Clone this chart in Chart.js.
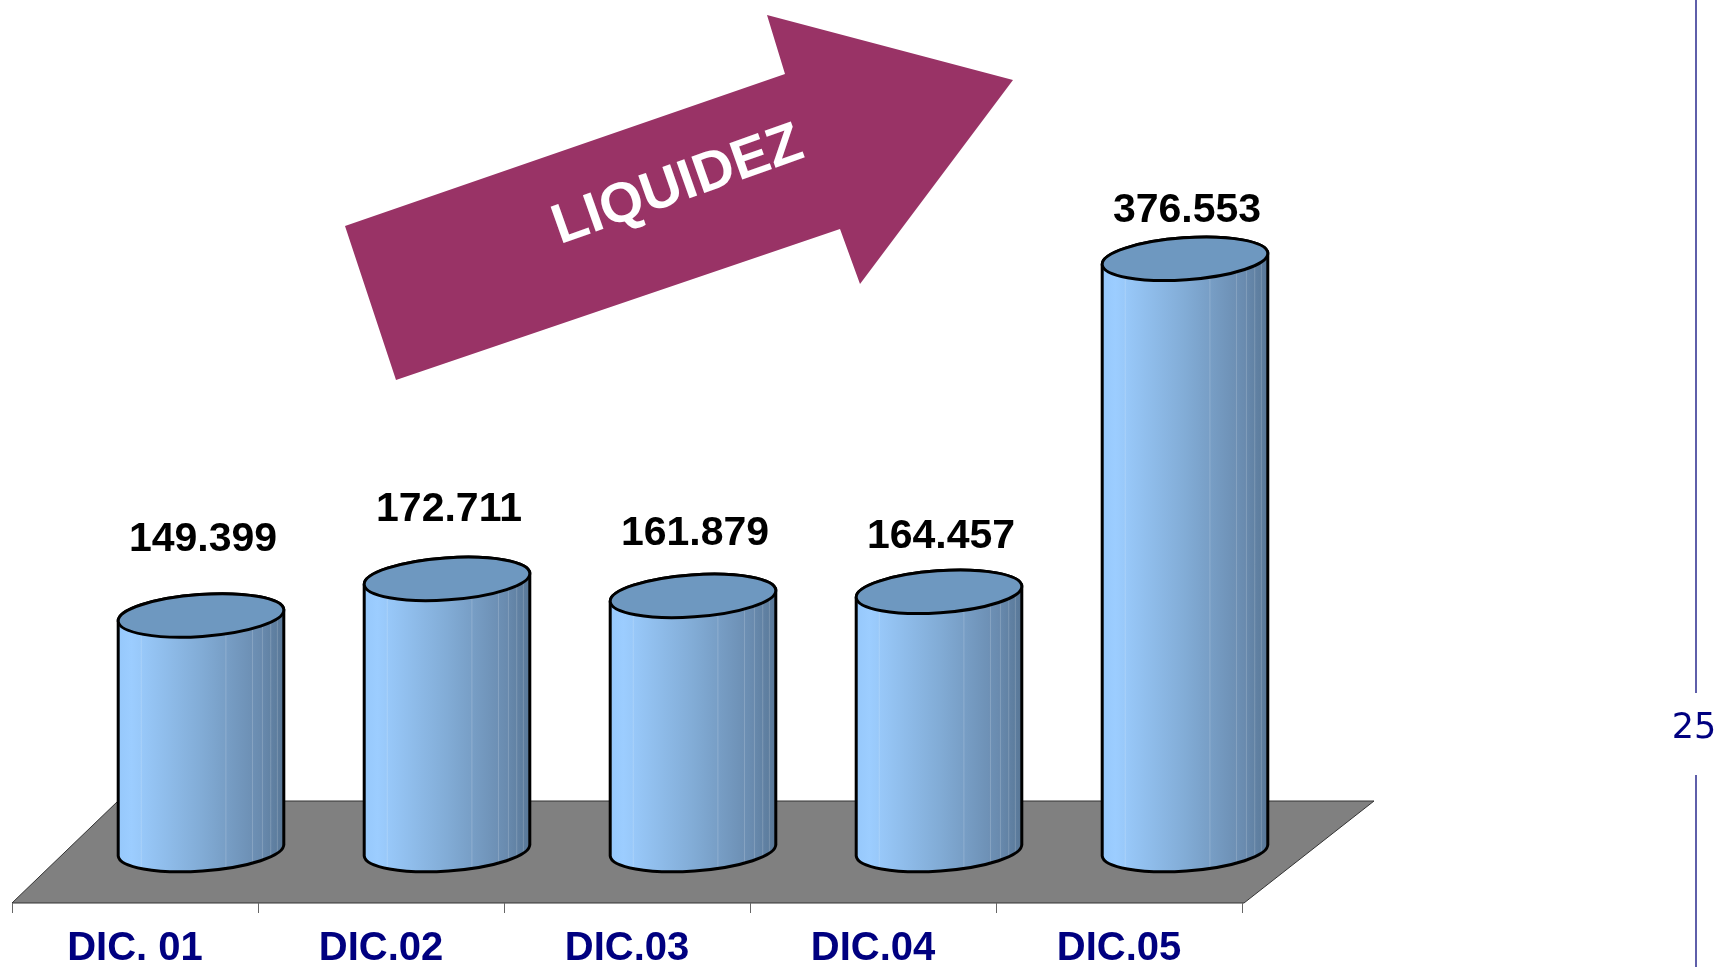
<!DOCTYPE html>
<html>
<head>
<meta charset="utf-8">
<style>
html, body { margin: 0; padding: 0; background: #fff; overflow: hidden; }
#chart { display: block; }
</style>
</head>
<body>
<canvas id="chart" width="1715" height="967"></canvas>
<script src="https://cdn.jsdelivr.net/npm/chart.js@4/dist/chart.umd.min.js"></script>
<script>
// Data (values in thousands, shown with Spanish thousand separator)
const categories = ['DIC. 01', 'DIC.02', 'DIC.03', 'DIC.04', 'DIC.05'];
const liquidez = [149.399, 172.711, 161.879, 164.457, 376.553];
const yMin = 0;
const yMax = 500;
const arrowText = 'LIQUIDEZ';
const pageNumber = '25';

// Draws the 3D floor, the cylinders, labels and the arrow around the chart
const cylinderPlugin = {
    id: 'cylinders',
    beforeDatasetsDraw(chart) {
        const ctx = chart.ctx;
        const xs = chart.getDatasetMeta(0).data.map(b => b.x);
        const base = chart.scales.y.getPixelForValue(0);
        const step = xs[1] - xs[0];

        // floor parallelogram
        const frontY = base + 53, backY = base - 49;
        const fl = xs[0] - 189, fr = xs[xs.length - 1] + 59;
        const bl = xs[0] - 83, br = xs[xs.length - 1] + 189;
        ctx.save();
        ctx.beginPath();
        ctx.moveTo(fl, frontY);
        ctx.lineTo(bl, backY);
        ctx.lineTo(br, backY);
        ctx.lineTo(fr, frontY);
        ctx.closePath();
        ctx.fillStyle = '#808080';
        ctx.fill();
        ctx.strokeStyle = '#333';
        ctx.lineWidth = 1;
        ctx.stroke();

        // ticks and category labels on the front edge
        ctx.strokeStyle = '#666';
        ctx.beginPath();
        for (let i = 0; i <= categories.length; i++) {
            const tx = fl + i * step;
            ctx.moveTo(tx + 0.5, frontY);
            ctx.lineTo(tx + 0.5, frontY + 10);
        }
        ctx.stroke();
        ctx.fillStyle = '#000080';
        ctx.font = 'bold 40px "Liberation Sans", Arial, sans-serif';
        ctx.textAlign = 'center';
        ctx.textBaseline = 'middle';
        categories.forEach((c, i) => {
            ctx.fillText(c, fl + (i + 0.5) * step, frontY + 46);
        });
        ctx.restore();
    },
    afterDatasetsDraw(chart) {
        const ctx = chart.ctx;
        const meta = chart.getDatasetMeta(0);
        const base = chart.scales.y.getPixelForValue(0);
        const rx = 83, ry = 21, tilt = -0.07;

        ctx.save();
        ctx.lineWidth = 3;
        ctx.lineJoin = 'round';
        ctx.strokeStyle = '#000';
        meta.data.forEach((bar, i) => {
            const cx = bar.x, top = bar.y;

            const grad = ctx.createLinearGradient(cx - rx, 0, cx + rx, 0);
            grad.addColorStop(0, '#96c8fb');
            grad.addColorStop(0.08, '#9ccdff');
            grad.addColorStop(0.5, '#82acd6');
            grad.addColorStop(0.85, '#6a8cb0');
            grad.addColorStop(1, '#587797');

            // body
            ctx.beginPath();
            ctx.ellipse(cx, base, rx, ry, tilt, 0, Math.PI);
            ctx.ellipse(cx, top, rx, ry, tilt, Math.PI, 2 * Math.PI);
            ctx.closePath();
            ctx.fillStyle = grad;
            ctx.fill();

            // faint facet lines
            ctx.save();
            ctx.clip();
            ctx.lineWidth = 1;
            ctx.strokeStyle = 'rgba(255,255,255,0.18)';
            [-0.72, 0.3, 0.62, 0.74, 0.84, 0.92].forEach(f => {
                ctx.beginPath();
                ctx.moveTo(cx + f * rx, top);
                ctx.lineTo(cx + f * rx, base + ry);
                ctx.stroke();
            });
            ctx.restore();

            ctx.beginPath();
            ctx.ellipse(cx, base, rx, ry, tilt, 0, Math.PI);
            ctx.ellipse(cx, top, rx, ry, tilt, Math.PI, 2 * Math.PI);
            ctx.closePath();
            ctx.stroke();

            // top face
            ctx.beginPath();
            ctx.ellipse(cx, top, rx, ry, tilt, 0, 2 * Math.PI);
            ctx.fillStyle = '#6e98c0';
            ctx.fill();
            ctx.stroke();

            // value label
            ctx.fillStyle = '#000';
            ctx.font = 'bold 41px "Liberation Sans", Arial, sans-serif';
            ctx.textAlign = 'center';
            ctx.textBaseline = 'middle';
            ctx.fillText(liquidez[i].toFixed(3), cx + 2, top - (76 - 7 * i));
        });
        ctx.restore();
    },
    afterDraw(chart) {
        const ctx = chart.ctx;
        ctx.save();

        // LIQUIDEZ arrow
        ctx.beginPath();
        ctx.moveTo(345, 226);
        ctx.lineTo(785, 74);
        ctx.lineTo(767, 15);
        ctx.lineTo(1013, 80);
        ctx.lineTo(860, 284);
        ctx.lineTo(840, 229);
        ctx.lineTo(396, 380);
        ctx.closePath();
        ctx.fillStyle = '#993366';
        ctx.fill();

        ctx.translate(678, 186);
        ctx.rotate(-19.5 * Math.PI / 180);
        ctx.fillStyle = '#fff';
        ctx.font = 'bold 56px "Liberation Sans", Arial, sans-serif';
        ctx.textAlign = 'center';
        ctx.textBaseline = 'middle';
        ctx.fillText(arrowText, 0, 0);
        ctx.restore();

        // slide margin line and page number
        ctx.save();
        ctx.strokeStyle = '#2b2b8f';
        ctx.lineWidth = 1.5;
        ctx.beginPath();
        ctx.moveTo(1696, 0);
        ctx.lineTo(1696, 693);
        ctx.moveTo(1696, 775);
        ctx.lineTo(1696, 967);
        ctx.stroke();
        ctx.fillStyle = '#000080';
        ctx.font = '35px "DejaVu Sans", Verdana, sans-serif';
        ctx.textAlign = 'center';
        ctx.textBaseline = 'middle';
        ctx.fillText(pageNumber, 1694, 729);
        ctx.restore();
    }
};

const ctx = document.getElementById('chart').getContext('2d');
new Chart(ctx, {
    type: 'bar',
    data: {
        labels: categories,
        datasets: [{
            label: 'Liquidez',
            data: liquidez,
            backgroundColor: 'rgba(0,0,0,0)',
            borderWidth: 0
        }]
    },
    options: {
        responsive: false,
        animation: false,
        devicePixelRatio: 1,
        layout: {
            padding: { left: 78, right: 407, top: 65, bottom: 117 }
        },
        scales: {
            x: { display: false, offset: true },
            y: { display: false, min: yMin, max: yMax }
        },
        plugins: {
            legend: { display: false },
            tooltip: { enabled: false }
        }
    },
    plugins: [cylinderPlugin]
});
</script>
</body>
</html>
